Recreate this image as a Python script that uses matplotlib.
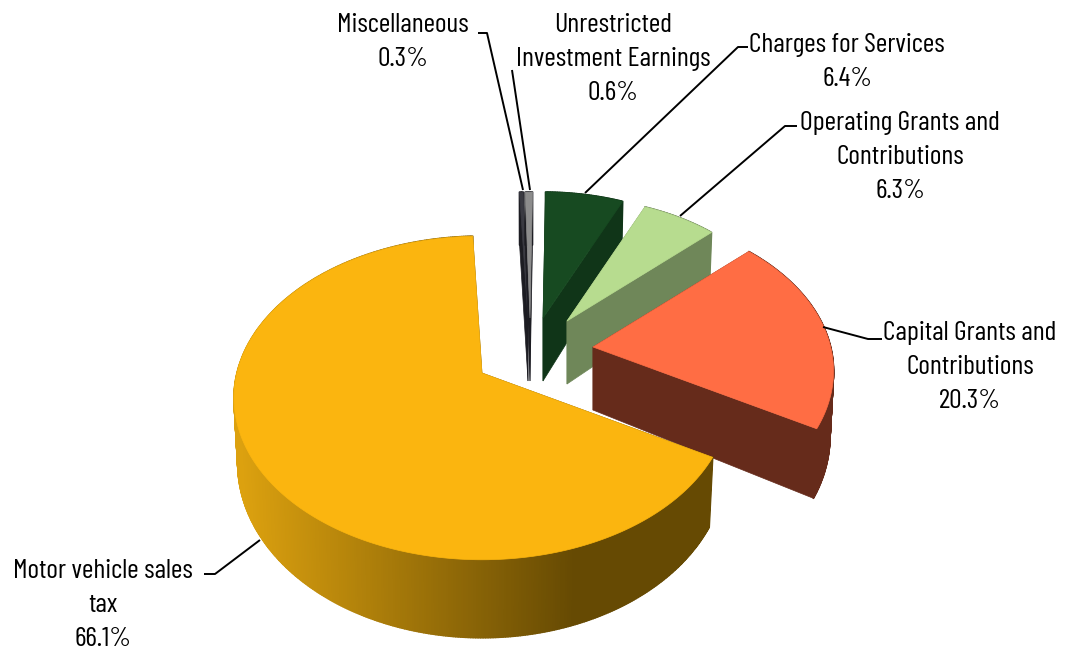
import logging
import numpy as np
import matplotlib
matplotlib.use('Agg')
import matplotlib.pyplot as plt
from matplotlib.collections import PolyCollection
from matplotlib.colors import to_rgb

logging.getLogger('matplotlib.font_manager').setLevel(logging.ERROR)

# clockwise from just left of 12 o'clock
labels = ['Miscellaneous', 'Unrestricted\nInvestment Earnings', 'Charges for Services',
          'Operating Grants and\nContributions', 'Capital Grants and\nContributions',
          'Motor vehicle sales\ntax']
values = [0.3, 0.6, 6.4, 6.3, 20.3, 66.1]

top_colors = ['#3a3a42', '#8c8c8c', '#174a21', '#b7dc8f', '#ff6d44', '#fbb50f']
wall_colors = ['#1c1c22', '#1c1c22', '#103518', '#6f8759', '#662b1b', '#664a03']

# apex of each exploded slice and its perspective scale
apex = [(528, 318), (530, 318), (543, 318), (567, 321), (593, 347), (482, 373)]
scale = [0.92, 0.92, 0.92, 0.90, 0.97, 1.0]

label_pos = [(403, 42), (613, 59), (847, 62), (900, 157), (970, 367), (103, 605)]
leaders = [[(478, 33), (487, 33), (523, 190)],
           [(512, 70), (530, 190)],
           [(748, 47), (738, 47), (585, 193)],
           [(797, 126), (785, 126), (680, 216)],
           [(882, 339), (868, 339), (823, 327)],
           [(204, 574), (215, 574), (260, 540)]]

start_angle = -2.5
R, S, K = 245.0, 158.0, 0.154

plt.rcParams['font.family'] = ['Barlow Condensed', 'Roboto Condensed', 'Liberation Sans', 'DejaVu Sans']

fig = plt.figure(figsize=(10.65, 6.51), dpi=100)
ax = fig.add_axes([0, 0, 1, 1])
ax.set_xlim(0, 1065)
ax.set_ylim(651, 0)
ax.axis('off')


def ring(a0, a1, ax0, ay0, s):
    t = np.radians(np.linspace(a0, a1, max(int(a1 - a0) * 2, 2) + 1))
    u, v = np.sin(t), np.cos(t)
    d = 1 + K * v
    return ax0 + s * R * u / d, ay0 - s * S * v / d


def drop(x, y, ax0, ay0):
    # bottom face: slightly narrower, depth grows towards the viewer
    return ax0 + (x - ax0) * 0.985, y + 63 + (y - ay0) * 0.08


edges = start_angle + np.cumsum([0] + values) * 3.6

for i in range(len(values)):
    ax0, ay0 = apex[i]
    x, y = ring(edges[i], edges[i + 1], ax0, ay0, scale[i])
    bx, by = drop(x, y, ax0, ay0)
    b0x, b0y = drop(np.array([ax0]), np.array([ay0]), ax0, ay0)

    # cut faces
    for j in (0, -1):
        ax.fill([ax0, x[j], bx[j], b0x[0]], [ay0, y[j], by[j], b0y[0]],
                color=wall_colors[i], lw=0.5, zorder=i * 3 + 1)

    # rim
    quads = []
    cols = []
    for k in range(len(x) - 1):
        quads.append([(x[k], y[k]), (x[k + 1], y[k + 1]), (bx[k + 1], by[k + 1]), (bx[k], by[k])])
        if i == len(values) - 1:
            f = np.clip((x[k] - 240) / (575 - 240), 0, 1)
            cols.append(tuple((1 - f) * np.array(to_rgb('#dca10f')) + f * np.array(to_rgb('#664a03'))))
        else:
            cols.append(wall_colors[i])
    ax.add_collection(PolyCollection(quads, facecolors=cols, edgecolors='face', linewidths=1.2,
                                     zorder=i * 3 + 2))

    # top
    ax.fill(np.r_[ax0, x], np.r_[ay0, y], color=top_colors[i], lw=0.5, zorder=i * 3 + 3)

for i in range(len(values)):
    px, py = zip(*leaders[i])
    ax.plot(px, py, color='black', lw=1.4, zorder=1 if i < 2 else 30, solid_capstyle='butt')
    ax.text(label_pos[i][0], label_pos[i][1], labels[i] + '\n%.1f%%' % values[i],
            ha='center', va='center', ma='center', fontsize=20, linespacing=1.53,
            color='black', zorder=40)

fig.savefig('out.png', dpi=100, facecolor='white')
